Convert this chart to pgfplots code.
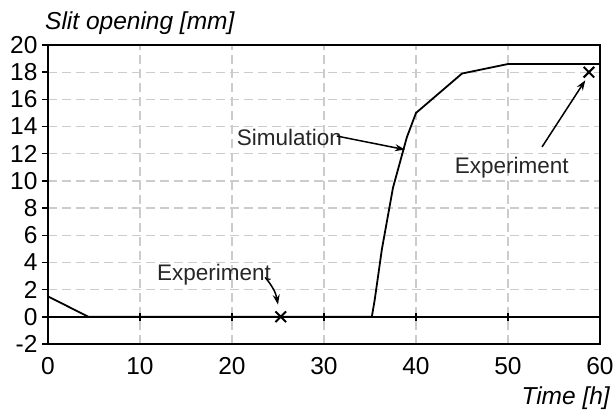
\documentclass[border=0pt]{standalone}
\usepackage{fontspec}
\setmainfont{Liberation Sans}
\usepackage{pgfplots}
\pgfplotsset{compat=1.18}
\usetikzlibrary{arrows.meta}

\begin{document}
\begin{tikzpicture}[font=\fontsize{22.5}{26}\selectfont]
% fixed frame of the figure around the plot area
\path[use as bounding box] (-48pt,-70pt) rectangle (566pt,344pt);
\begin{axis}[
  at={(0pt,0pt)}, anchor=south west,
  scale only axis, width=552pt, height=299pt,
  xmin=0, xmax=60, ymin=-2, ymax=20,
  xtick={0,10,20,30,40,50,60},
  ytick={-2,0,2,4,6,8,10,12,14,16,18,20},
  xticklabels={0,10,20,30,40,50,60},
  yticklabels={-2,0,2,4,6,8,10,12,14,16,18,20},
  tick label style={font=\fontsize{24.5}{28}\selectfont, black},
  axis line style={line width=2.2pt, black},
  x tick style={draw=none},
  y tick style={line width=1.5pt, black},
  tick align=outside, major tick length=6pt,
  ytick pos=left, xtick pos=bottom,
  grid=major,
  grid style={black!20, line width=1.2pt, dash pattern=on 9pt off 5pt},
  xticklabel style={yshift=-4pt},
  yticklabel style={xshift=-1pt},
  clip=false,
]
% horizontal axis line through zero, with its ticks
\draw[line width=1.8pt] (axis cs:0,0) -- (axis cs:60,0);
\pgfplotsinvokeforeach{10,20,30,40,50}{
  \draw[line width=1.5pt] (axis cs:#1,-0.3) -- (axis cs:#1,0.3);
}
% simulated slit opening
\addplot[line width=1.8pt, black] coordinates {
  (0,1.5) (4.4,0) (35.2,0) (35.5,1.2) (36.3,5) (37.5,9.5) (39,13.2)
  (40,15) (45,17.9) (50,18.6) (60,18.6)
};
% measured values
\addplot[only marks, mark=x, mark size=7.5pt, black,
  mark options={line width=2pt}]
  coordinates {(25.3,0) (58.8,18)};
% annotations
\node[anchor=west, inner sep=0pt, text=black!85] at (axis cs:20.5,13.2) {Simulation};
\draw[-{Stealth[length=10pt,width=7pt]}, line width=1.5pt]
  (axis cs:31.4,13.3) -- (axis cs:38.8,12.3);
\node[anchor=west, inner sep=0pt, text=black!85] at (axis cs:44.2,11.0) {Experiment};
\draw[-{Stealth[length=10pt,width=7pt]}, line width=1.5pt]
  (axis cs:53.7,12.5) -- (axis cs:58.4,17.4);
\node[anchor=west, inner sep=0pt, text=black!85] at (axis cs:11.85,3.1) {Experiment};
\draw[-{Stealth[length=10pt,width=7pt]}, line width=1.5pt]
  (axis cs:23.6,2.9) to[bend left=15] (axis cs:25.0,0.9);
\end{axis}
% axis titles
\node[anchor=base west, inner sep=0pt, font=\fontsize{24.5}{28}\selectfont\itshape]
  at (-3pt,314pt) {Slit opening [mm]};
\node[anchor=base east, inner sep=0pt, font=\fontsize{24.5}{28}\selectfont\itshape]
  at (562pt,-61pt) {Time [h]};
\end{tikzpicture}
\end{document}
